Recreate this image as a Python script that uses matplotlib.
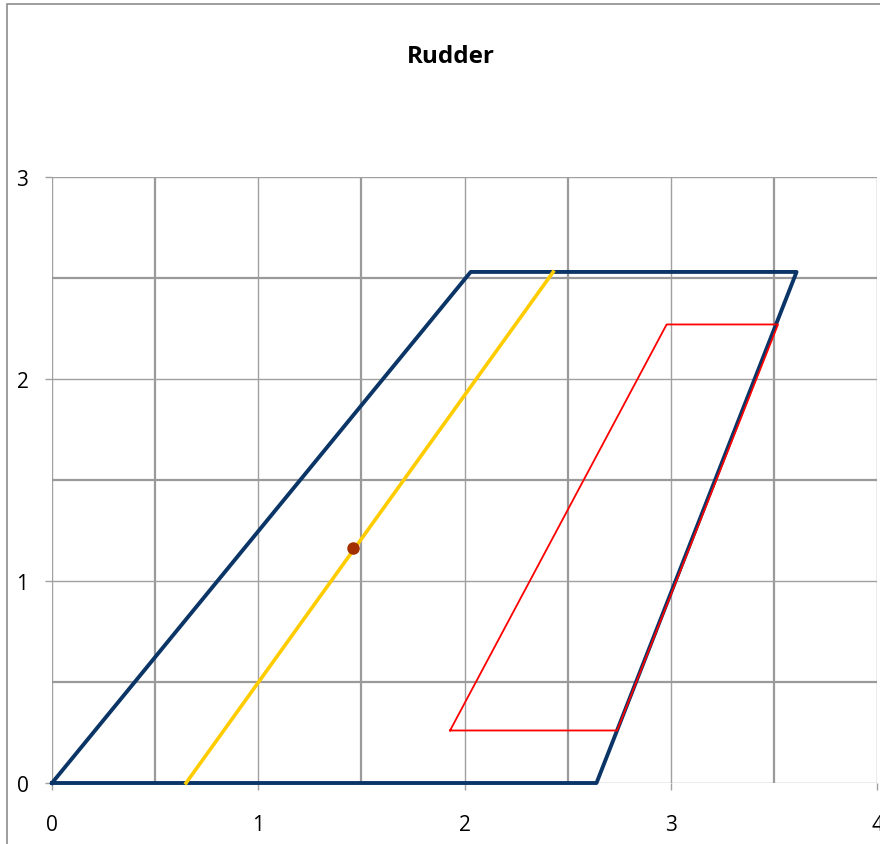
import matplotlib
matplotlib.use("Agg")
import matplotlib.pyplot as plt
from matplotlib.patches import Rectangle

# outline of the rudder (blue)
rudder_x = [0, 2.03, 3.61, 2.64, 0]
rudder_y = [0, 2.53, 2.53, 0, 0]

# quarter chord line (yellow)
chord_x = [0.65, 2.43]
chord_y = [0, 2.53]

# inner area (red)
inner_x = [1.93, 2.74, 3.52, 2.98, 1.93]
inner_y = [0.26, 0.26, 2.27, 2.27, 0.26]

# centre point
cp_x = [1.46]
cp_y = [1.165]

xticks = [0, 1, 2, 3, 4]
yticks = [0, 1, 2, 3]

plt.rcParams['font.family'] = ['Open Sans', 'DejaVu Sans']

fig = plt.figure(figsize=(8.8, 8.45), dpi=100)
ax = fig.add_axes([52/880, 1 - 784/845, 825/880, (784 - 178)/845])

ax.plot(rudder_x, rudder_y, color="#0a3566", lw=2.8, zorder=3, clip_on=False)
ax.plot(chord_x, chord_y, color="#ffcc00", lw=2.6, zorder=3, clip_on=False)
ax.plot(inner_x, inner_y, color="#ff0000", lw=1.3, zorder=4)
ax.plot(cp_x, cp_y, "o", color="#a33000", ms=8, zorder=5)

ax.set_xlim(0, 4)
ax.set_ylim(0, 3)
ax.set_xticks(xticks)
ax.set_yticks(yticks)
ax.set_xticks([0.5, 1.5, 2.5, 3.5], minor=True)
ax.set_yticks([0.5, 1.5, 2.5], minor=True)
ax.grid(which="major", color="#a0a0a0", lw=1.0)
ax.grid(which="minor", color="#9a9a9a", lw=1.6)
ax.set_axisbelow(True)
for s in ax.spines.values():
    s.set_visible(False)
ax.tick_params(which="major", length=5, color="#a0a0a0", labelsize=15, width=1)
ax.tick_params(axis="x", pad=17)
ax.tick_params(axis="y", pad=12)
ax.tick_params(which="minor", length=0)

fig.text(0.512, 0.933, "Rudder", ha="center", va="center", fontsize=17.5, fontweight="bold")

fig.patches.append(Rectangle((7/880, -0.1), 2, 1 - 5/845 + 0.1, transform=fig.transFigure,
                             fill=False, edgecolor="#8c8c8c", lw=1.2))

fig.savefig("out.png", dpi=100)
